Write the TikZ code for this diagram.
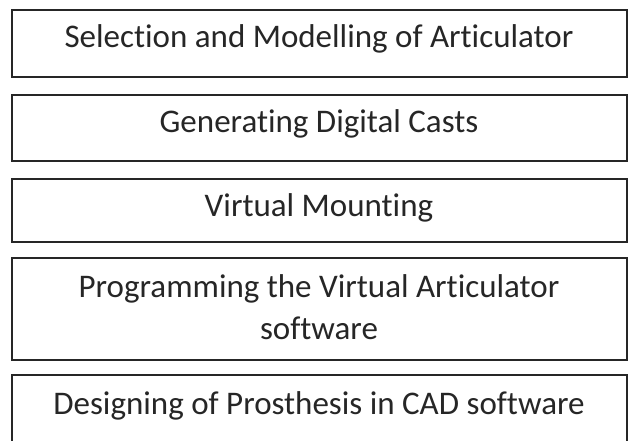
\documentclass[tikz,border=0pt]{standalone}
\usepackage{fontspec}
\setmainfont[Ligatures={NoCommon,NoRare,NoContextual}]{Carlito}
\begin{document}
\begin{tikzpicture}[x=1pt,y=-1pt,
  stepbox/.style={draw=black!85, line width=1.4pt, rectangle, minimum width=615pt, inner sep=0pt, fill=white},
  steptext/.style={anchor=base, inner sep=0pt, text=black!85, font=\fontsize{33}{40}\selectfont}]
\useasboundingbox (0,0) rectangle (629,441);
\clip (0,0) rectangle (629,441);
\fill[white] (0,0) rectangle (629,441);
\node[stepbox, minimum height=67pt] (b1) at (319.5,43.5) {};
\node[stepbox, minimum height=66pt] (b2) at (319.5,128) {};
\node[stepbox, minimum height=63pt] (b3) at (319.5,210.5) {};
\node[stepbox, minimum height=102pt] (b4) at (319.5,309) {};
\node[stepbox, minimum height=70pt] (b5) at (319.5,410) {};
\node[steptext] (t1) at (319,47.7) {Selection and Modelling of Articulator};
\node[steptext] (t2) at (319,132.7) {Generating Digital Casts};
\node[steptext] (t3) at (319,216.7) {Virtual Mounting};
\node[steptext] (t4a) at (319,297) {Programming the Virtual Articulator};
\node[steptext] (t4b) at (319,339) {software};
\node[steptext] (t5) at (319,414) {Designing of Prosthesis in CAD software};
\end{tikzpicture}
\end{document}
